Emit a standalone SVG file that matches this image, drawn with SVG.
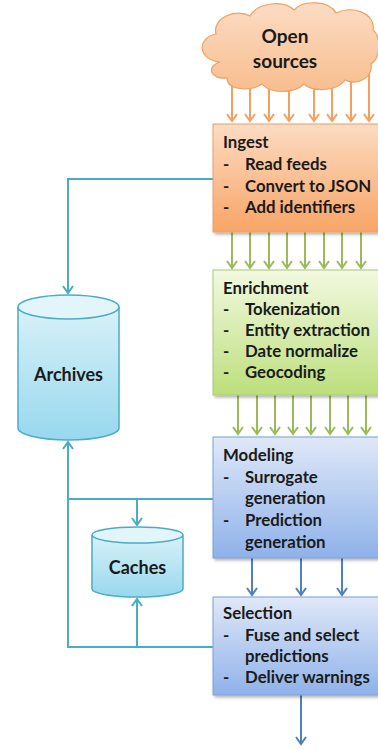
<svg xmlns="http://www.w3.org/2000/svg" width="378" height="750" viewBox="0 0 378 750">
<style>
.t{font-family:Lato,"Liberation Sans",sans-serif;font-weight:bold;font-size:16.8px;fill:#1a1a1a}
.big{font-size:18px}
.tl{fill:none;stroke:#4BACC6;stroke-width:2}
.or{stroke:#F4A060;stroke-width:2}
.gr{stroke:#9BBB59;stroke-width:2}
.bl{stroke:#4F81BD;stroke-width:2}
</style>
<defs>
<linearGradient id="gO" x1="0" y1="0" x2="0" y2="1"><stop offset="0" stop-color="#FCDCC2"/><stop offset="1" stop-color="#F8A466"/></linearGradient>
<linearGradient id="gG" x1="0" y1="0" x2="0" y2="1"><stop offset="0" stop-color="#F2F9E0"/><stop offset="1" stop-color="#BCDF7C"/></linearGradient>
<linearGradient id="gB" x1="0" y1="0" x2="0" y2="1"><stop offset="0" stop-color="#DFE8F8"/><stop offset="1" stop-color="#8FB2EA"/></linearGradient>
<linearGradient id="gC" x1="0" y1="0" x2="0" y2="1"><stop offset="0" stop-color="#FCDCC4"/><stop offset="1" stop-color="#F8BE8E"/></linearGradient>
<linearGradient id="gY" x1="0" y1="0" x2="0" y2="1"><stop offset="0" stop-color="#D8F1F8"/><stop offset="1" stop-color="#98D8EE"/></linearGradient>
<filter id="sh" x="-10%" y="-10%" width="130%" height="130%"><feDropShadow dx="2" dy="2" stdDeviation="1.5" flood-color="#000" flood-opacity="0.3"/></filter>
<marker id="mO" viewBox="-8 -6 10 12" markerWidth="10" markerHeight="12" refX="0" refY="0" orient="auto" markerUnits="userSpaceOnUse"><path d="M-7,-5 L0,0 L-7,5" fill="none" stroke="#F4A060" stroke-width="2"/></marker>
<marker id="mG" viewBox="-8 -6 10 12" markerWidth="10" markerHeight="12" refX="0" refY="0" orient="auto" markerUnits="userSpaceOnUse"><path d="M-7,-5 L0,0 L-7,5" fill="none" stroke="#9BBB59" stroke-width="2"/></marker>
<marker id="mB" viewBox="-8 -6 10 12" markerWidth="10" markerHeight="12" refX="0" refY="0" orient="auto" markerUnits="userSpaceOnUse"><path d="M-7,-5 L0,0 L-7,5" fill="none" stroke="#4F81BD" stroke-width="2"/></marker>
<marker id="mT" viewBox="-8 -6 10 12" markerWidth="10" markerHeight="12" refX="0" refY="0" orient="auto" markerUnits="userSpaceOnUse"><path d="M-7,-5 L0,0 L-7,5" fill="none" stroke="#4BACC6" stroke-width="2"/></marker>
</defs>
<rect width="378" height="750" fill="#fff"/>
<g id="connectors">
<g class="or" marker-end="url(#mO)">
<line x1="232" y1="70" x2="232" y2="121"/><line x1="250" y1="70" x2="250" y2="121"/><line x1="269" y1="70" x2="269" y2="121"/><line x1="289" y1="70" x2="289" y2="121"/><line x1="314" y1="70" x2="314" y2="121"/><line x1="332" y1="70" x2="332" y2="121"/><line x1="351" y1="70" x2="351" y2="121"/><line x1="369" y1="60" x2="369" y2="121"/>
</g>
<g class="gr" marker-end="url(#mG)">
<line x1="232" y1="232" x2="232" y2="268"/><line x1="250" y1="232" x2="250" y2="268"/><line x1="269" y1="232" x2="269" y2="268"/><line x1="287" y1="232" x2="287" y2="268"/><line x1="305" y1="232" x2="305" y2="268"/><line x1="324" y1="232" x2="324" y2="268"/><line x1="342" y1="232" x2="342" y2="268"/><line x1="361" y1="232" x2="361" y2="268"/>
<line x1="238" y1="395" x2="238" y2="434"/><line x1="257" y1="395" x2="257" y2="434"/><line x1="275" y1="395" x2="275" y2="434"/><line x1="293" y1="395" x2="293" y2="434"/><line x1="311" y1="395" x2="311" y2="434"/><line x1="330" y1="395" x2="330" y2="434"/><line x1="348" y1="395" x2="348" y2="434"/><line x1="366" y1="395" x2="366" y2="434"/>
</g>
<g class="bl" marker-end="url(#mB)">
<line x1="252" y1="558" x2="252" y2="595"/><line x1="301" y1="558" x2="301" y2="595"/><line x1="342" y1="558" x2="342" y2="595"/>
<line x1="301" y1="695" x2="301" y2="744"/>
</g>
<path class="tl" d="M213,179 H68 V293" marker-end="url(#mT)"/>
<path class="tl" d="M213,499 H68 V442" marker-end="url(#mT)"/>
<path class="tl" d="M137,499 V525" marker-end="url(#mT)"/>
<path class="tl" d="M68,499 V647 H213"/>
<path class="tl" d="M137,647 V599" marker-end="url(#mT)"/>
</g>
<g id="open-sources">
<path d="M220,62 C198,60 196,38 216,34 C212,18 236,8 250,16 C258,2 284,0 294,10 C304,-1 330,1 336,13 C352,5 376,13 373,30 C381,36 381,58 371,64 C373,78 357,86 345,80 C337,92 312,92 304,84 C294,94 270,94 262,84 C250,92 227,90 227,78 C210,80 206,66 220,62 Z" fill="url(#gC)" stroke="#F0A060" stroke-width="1.2"/>
<text class="t" x="285" y="43" text-anchor="middle" style="font-size:19px">Open</text>
<text class="t" x="285" y="68" text-anchor="middle" style="font-size:19px">sources</text>
</g>
<g id="ingest">
<rect x="213" y="124" width="175" height="108" fill="url(#gO)" stroke="#E8A070" stroke-width="1" filter="url(#sh)"/>
<text class="t" x="223" y="148">Ingest</text>
<text class="t" x="223" y="170">-</text><text class="t" x="245" y="170">Read feeds</text>
<text class="t" x="223" y="192">-</text><text class="t" x="245" y="192">Convert to JSON</text>
<text class="t" x="223" y="213">-</text><text class="t" x="245" y="213">Add identifiers</text>
</g>
<g id="enrichment">
<rect x="213" y="270" width="175" height="125" fill="url(#gG)" stroke="#A8C880" stroke-width="1" filter="url(#sh)"/>
<text class="t" x="223" y="294">Enrichment</text>
<text class="t" x="223" y="315">-</text><text class="t" x="245" y="315">Tokenization</text>
<text class="t" x="223" y="336">-</text><text class="t" x="245" y="336">Entity extraction</text>
<text class="t" x="223" y="357">-</text><text class="t" x="245" y="357">Date normalize</text>
<text class="t" x="223" y="378">-</text><text class="t" x="245" y="378">Geocoding</text>
</g>
<g id="modeling">
<rect x="213" y="437" width="175" height="121" fill="url(#gB)" stroke="#7C9ED4" stroke-width="1" filter="url(#sh)"/>
<text class="t" x="223" y="461">Modeling</text>
<text class="t" x="223" y="483">-</text><text class="t" x="245" y="483">Surrogate</text>
<text class="t" x="245" y="504">generation</text>
<text class="t" x="223" y="526">-</text><text class="t" x="245" y="526">Prediction</text>
<text class="t" x="245" y="548">generation</text>
</g>
<g id="selection">
<rect x="213" y="597" width="175" height="98" fill="url(#gB)" stroke="#7C9ED4" stroke-width="1" filter="url(#sh)"/>
<text class="t" x="223" y="619">Selection</text>
<text class="t" x="223" y="641">-</text><text class="t" x="245" y="641">Fuse and select</text>
<text class="t" x="245" y="662">predictions</text>
<text class="t" x="223" y="683">-</text><text class="t" x="245" y="683">Deliver warnings</text>
</g>
<g id="archives">
<path d="M18,307 V428 A50.5,12 0 0 0 119,428 V307" fill="url(#gY)" stroke="#4BACC6" stroke-width="1.5"/>
<ellipse cx="68.5" cy="307" rx="50.5" ry="12" fill="#E2F5FB" stroke="#4BACC6" stroke-width="1.5"/>
<text class="t big" x="68.5" y="381" text-anchor="middle">Archives</text>
</g>
<g id="caches">
<path d="M92,535 V589 A45.5,8 0 0 0 183,589 V535" fill="url(#gY)" stroke="#4BACC6" stroke-width="1.5"/>
<ellipse cx="137.5" cy="535" rx="45.5" ry="8" fill="#E2F5FB" stroke="#4BACC6" stroke-width="1.5"/>
<text class="t big" x="137.5" y="574" text-anchor="middle">Caches</text>
</g>
</svg>
